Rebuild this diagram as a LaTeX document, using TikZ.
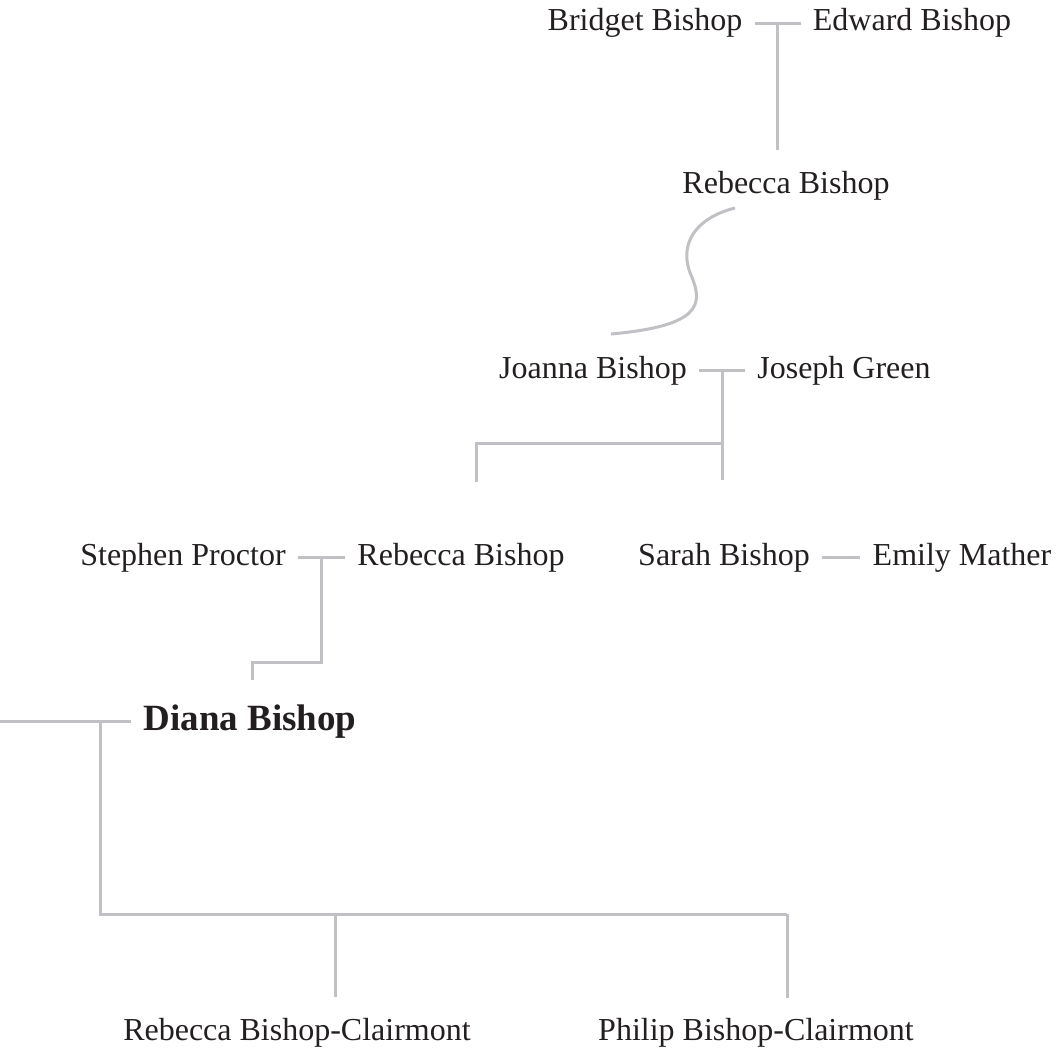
\documentclass[tikz,border=0pt]{standalone}
\usepackage{fontspec}
\setmainfont{Liberation Serif}
\definecolor{inkgray}{RGB}{35,31,32}
\definecolor{linegray}{RGB}{192,192,197}
\begin{document}
\begin{tikzpicture}[x=0.5pt, y=-0.5pt,
	person/.style={text=inkgray, font=\fontsize{16}{19}\selectfont, text height=11pt, text depth=3.5pt, inner sep=6pt, anchor=base},
	heroine/.style={person, font=\fontsize{18.5}{22}\selectfont\bfseries, text height=13pt, text depth=4pt},
	tie/.style={draw=linegray, line width=1.5pt}]
\useasboundingbox (0,0) rectangle (1064,1054);
\node[person] (bridget) at (645,31) {Bridget Bishop};
\node[person] (edward) at (912,31) {Edward Bishop};
\node[person] (rebeccaA) at (786,193) {Rebecca Bishop};
\node[person] (joanna) at (593,378) {Joanna Bishop};
\node[person] (joseph) at (844,378) {Joseph Green};
\node[person] (stephen) at (183,565) {Stephen Proctor};
\node[person] (rebeccaB) at (461,565) {Rebecca Bishop};
\node[person] (sarah) at (724,565) {Sarah Bishop};
\node[person] (emily) at (962,565) {Emily Mather};
\node[heroine] (diana) at (250,730) {Diana Bishop};
\node[person] (rebeccaC) at (297,1040) {Rebecca Bishop-Clairmont};
\node[person] (philip) at (756,1040) {Philip Bishop-Clairmont};
\coordinate (s1) at (735,208);
\coordinate (s2) at (691,275);
\coordinate (s3) at (611,334);
\coordinate (rebeccaBtop) at (476,482);
\coordinate (dianatop) at (252,680);
\coordinate (kids) at (100,914);
\coordinate (kidA) at (335,997);
\coordinate (kidB) at (787,998);
\draw[tie] (bridget) -- (edward) coordinate[midway] (m1);
\draw[tie, shorten >=4.5pt] (m1) -- (m1 |- rebeccaA.north);
\draw[tie] (s1) .. controls (695,218) and (678,245) .. (s2) .. controls (704,305) and (700,326) .. (s3);
\draw[tie] (joanna) -- (joseph) coordinate[midway] (m2);
\draw[tie] (m2) -- ++(0,109);
\draw[tie] (m2) ++(0,73) -| (rebeccaBtop);
\draw[tie] (stephen) -- (rebeccaB) coordinate[midway] (m3);
\draw[tie] (m3) -- ++(0,105) -| (dianatop);
\draw[tie] (sarah) -- (emily);
\draw[tie] (diana.west) -- (diana.west -| 0,0);
\draw[tie] (diana.west -| kids) -- (kids) -- (kids -| kidB);
\draw[tie] (kidA |- kids) -- (kidA);
\draw[tie] (kidB |- kids) -- (kidB);
\end{tikzpicture}
\end{document}
